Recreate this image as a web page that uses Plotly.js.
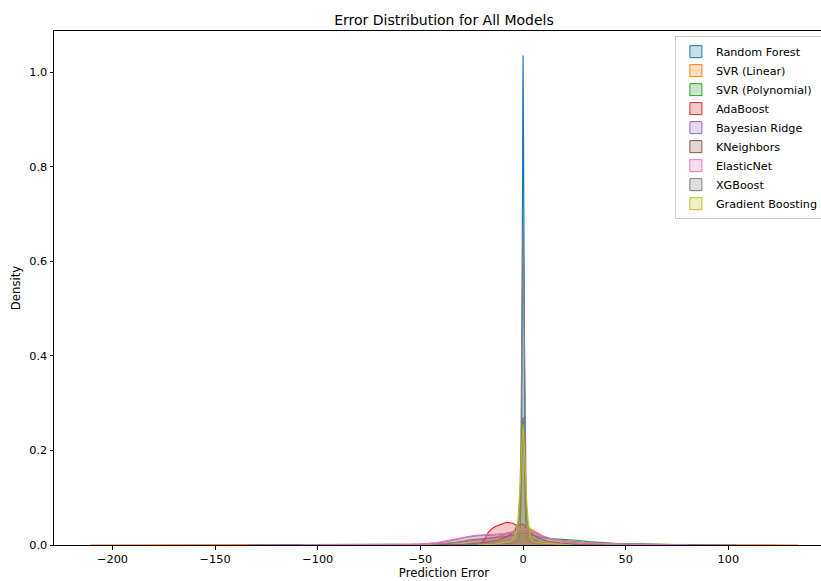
<!DOCTYPE html>
<html>
<head>
<meta charset="utf-8">
<script src="https://cdn.plot.ly/plotly-3.0.1.min.js"></script>
<style>
html, body { margin: 0; padding: 0; overflow: hidden; background: #fff; width: 821px; height: 581px; }
#wrap { width: 821px; height: 581px; overflow: hidden; position: relative; }
#chart { width: 834px; height: 581px; position: absolute; left: 0; top: 0; }
</style>
</head>
<body>
<div id="wrap"><div id="chart"></div></div>
<script>
// Model names (legend order) and colours
const modelNames = ["Random Forest", "SVR (Linear)", "SVR (Polynomial)", "AdaBoost", "Bayesian Ridge", "KNeighbors", "ElasticNet", "XGBoost", "Gradient Boosting"];
const modelColors = ["#1f77b4", "#ff7f0e", "#2ca02c", "#d62728", "#9467bd", "#8c564b", "#e377c2", "#7f7f7f", "#bcbd22"];

// Density curves (prediction error, density)
const rfX = [-25, -12, -6, -3, -2, -1.5, -1, -0.7, -0.4, -0.2, 0, 0.2, 0.4, 0.7, 1, 1.5, 2, 3, 6, 12, 25];
const rfY = [0, 0.001, 0.003, 0.008, 0.015, 0.03, 0.09, 0.25, 0.6, 0.9, 1.035, 0.9, 0.6, 0.25, 0.09, 0.03, 0.015, 0.008, 0.003, 0.001, 0];

const svrLinX = [-211, -180, -150, -134, -110, -80, -55, -40, -30, -20, -12, -6, -2, 1, 3, 5, 7.5, 10, 14, 20, 30, 45, 60, 80, 104, 120, 134];
const svrLinY = [0, 0.0002, 0.0003, 0.0003, 0.0004, 0.0006, 0.0012, 0.003, 0.006, 0.011, 0.018, 0.026, 0.032, 0.036, 0.035, 0.031, 0.025, 0.018, 0.012, 0.007, 0.004, 0.002, 0.0012, 0.0006, 0.0003, 0.0002, 0];

const svrPolyX = [-45, -38, -32, -26, -20, -14, -8, -4, 0, 4, 8, 12, 16, 21, 26, 32, 38, 45, 55, 65, 72, 78, 84];
const svrPolyY = [0, 0.002, 0.006, 0.011, 0.013, 0.015, 0.018, 0.022, 0.026, 0.022, 0.017, 0.014, 0.013, 0.012, 0.01, 0.007, 0.005, 0.0035, 0.0025, 0.002, 0.0015, 0.0007, 0];

const adaX = [-26, -21, -19, -17, -15, -13.5, -11, -8, -5, -3, -1.5, 0, 1, 2, 3.5, 5, 8, 12, 18, 26];
const adaY = [0, 0.001, 0.01, 0.026, 0.035, 0.039, 0.043, 0.048, 0.046, 0.041, 0.043, 0.044, 0.04, 0.03, 0.018, 0.01, 0.005, 0.002, 0.0008, 0];

const bayesX = [-134, -110, -85, -65, -50, -42, -35, -28, -22, -15, -9, -4, 0, 4, 9, 15, 22, 30, 40, 55, 70, 85, 104];
const bayesY = [0, 0.0002, 0.0004, 0.001, 0.002, 0.004, 0.009, 0.016, 0.02, 0.021, 0.024, 0.029, 0.032, 0.027, 0.019, 0.012, 0.008, 0.005, 0.003, 0.0015, 0.0008, 0.0004, 0];

const knnX = [-40, -28, -18, -12, -7, -4, -2.5, -1.5, -1, -0.5, 0, 0.5, 1, 1.5, 2.5, 4, 7, 12, 18, 28, 40];
const knnY = [0, 0.002, 0.006, 0.01, 0.02, 0.03, 0.045, 0.06, 0.12, 0.22, 0.27, 0.22, 0.12, 0.06, 0.04, 0.025, 0.015, 0.008, 0.004, 0.001, 0];

const enetX = [-108, -85, -65, -50, -42, -36, -30, -24, -18, -12, -6, -2, 1, 4, 8, 13, 19, 26, 35, 46, 58, 70, 80];
const enetY = [0, 0.0003, 0.0008, 0.002, 0.005, 0.01, 0.016, 0.02, 0.022, 0.023, 0.026, 0.032, 0.034, 0.03, 0.022, 0.014, 0.009, 0.006, 0.004, 0.002, 0.001, 0.0005, 0];

const xgbX = [-30, -15, -8, -5, -3, -2, -1.5, -1, -0.6, -0.3, 0, 0.3, 0.6, 1, 1.5, 2, 3, 5, 8, 15, 30];
const xgbY = [0, 0.002, 0.006, 0.012, 0.025, 0.05, 0.1, 0.22, 0.42, 0.6, 0.675, 0.6, 0.42, 0.22, 0.1, 0.05, 0.025, 0.012, 0.006, 0.002, 0];

const gbX = [-22, -14, -10, -6, -4.5, -3.5, -2.5, -1.8, -1.2, -0.6, 0, 0.6, 1.2, 1.8, 2.5, 3.5, 4.5, 6, 10, 15, 20, 24];
const gbY = [0, 0.002, 0.005, 0.008, 0.015, 0.024, 0.05, 0.09, 0.14, 0.21, 0.255, 0.21, 0.14, 0.09, 0.05, 0.02, 0.01, 0.006, 0.004, 0.003, 0.001, 0];

const xTickVals = [-200, -150, -100, -50, 0, 50, 100];
const yTickVals = [0, 0.2, 0.4, 0.6, 0.8, 1.0];

const seriesX = [rfX, svrLinX, svrPolyX, adaX, bayesX, knnX, enetX, xgbX, gbX];
const seriesY = [rfY, svrLinY, svrPolyY, adaY, bayesY, knnY, enetY, xgbY, gbY];

function rgba(hex, a) {
  const r = parseInt(hex.slice(1, 3), 16), g = parseInt(hex.slice(3, 5), 16), b = parseInt(hex.slice(5, 7), 16);
  return `rgba(${r},${g},${b},${a})`;
}

const traces = [];
modelNames.forEach((name, i) => {
  traces.push({
    type: "scatter", mode: "lines", x: seriesX[i], y: seriesY[i],
    fill: "tozeroy", fillcolor: rgba(modelColors[i], 0.25),
    line: { color: modelColors[i], width: 1.2 },
    name: name, legendgroup: name, showlegend: false, hoverinfo: "skip"
  });
});
modelNames.forEach((name, i) => {
  traces.push({
    type: "bar", x: [null], y: [null], name: name, legendgroup: name,
    marker: { color: rgba(modelColors[i], 0.25), line: { color: modelColors[i], width: 1 } },
    showlegend: true
  });
});

const font = { family: "DejaVu Sans, sans-serif", color: "#000" };
const layout = {
  width: 834, height: 581,
  margin: { l: 54, r: 0, t: 31, b: 36 },
  paper_bgcolor: "#fff", plot_bgcolor: "#fff",
  font: Object.assign({ size: 11.3 }, font),
  title: { text: "Error Distribution for All Models", font: Object.assign({ size: 14 }, font), x: 0.5, xref: "paper", xanchor: "center", y: 1, yref: "paper", yanchor: "bottom", pad: { b: 6 } },
  showlegend: true,
  legend: {
    x: 0.796, y: 0.99, xanchor: "left", yanchor: "top",
    bgcolor: "rgba(255,255,255,0.8)", bordercolor: "#cccccc", borderwidth: 1,
    font: Object.assign({ size: 11.2 }, font), traceorder: "normal", itemwidth: 30
  },
  xaxis: {
    type: "linear", range: [-228.5, 151.5], tickvals: xTickVals,
    showgrid: false, zeroline: false, showline: true, mirror: true, linecolor: "#000", linewidth: 1,
    ticks: "outside", ticklen: 3.5, tickcolor: "#000", tickfont: Object.assign({ size: 11.3 }, font),
    title: { text: "Prediction Error", font: Object.assign({ size: 11.7 }, font), standoff: 3 }
  },
  yaxis: {
    type: "linear", range: [0, 1.0867], tickvals: yTickVals, tickformat: ".1f",
    showgrid: false, zeroline: false, showline: true, mirror: true, linecolor: "#000", linewidth: 1,
    ticks: "outside", ticklen: 3.5, tickcolor: "#000", tickfont: Object.assign({ size: 11.3 }, font),
    title: { text: "Density", font: Object.assign({ size: 11.7 }, font), standoff: 6 }
  },
  bargap: 0
};

Plotly.newPlot("chart", traces, layout, { displayModeBar: false, staticPlot: true });
</script>
</body>
</html>
